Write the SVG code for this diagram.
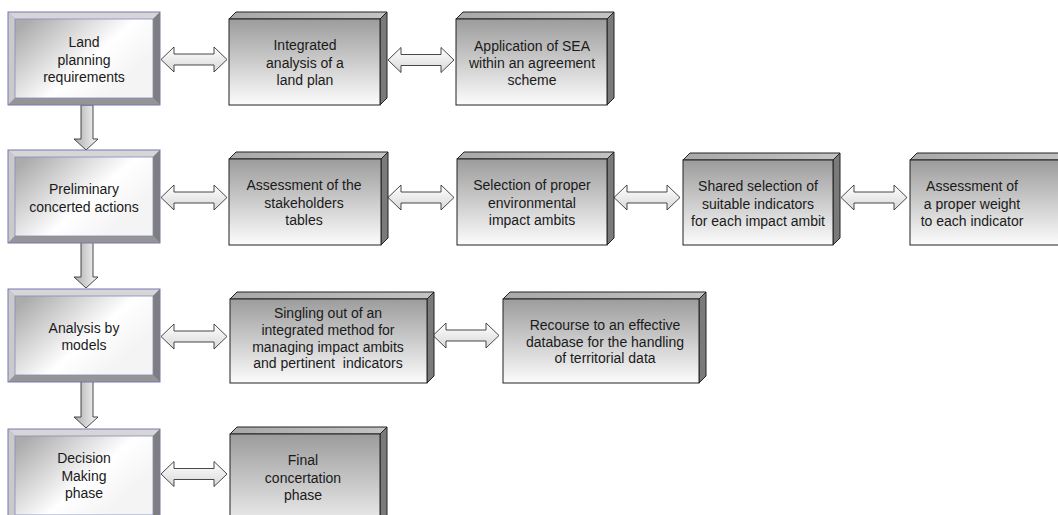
<svg xmlns="http://www.w3.org/2000/svg" width="1058" height="515" viewBox="0 0 1058 515">
<defs>
<linearGradient id="gFace" x1="0" y1="0.15" x2="0.85" y2="0.7">
<stop offset="0" stop-color="#ababab"/>
<stop offset="0.65" stop-color="#ffffff"/>
<stop offset="1" stop-color="#f4f4f4"/>
</linearGradient>
<linearGradient id="gFront" x1="0" y1="0" x2="0" y2="1">
<stop offset="0" stop-color="#9c9c9c"/>
<stop offset="1" stop-color="#fcfcfc"/>
</linearGradient>
<linearGradient id="gTop" x1="0" y1="0" x2="1" y2="0">
<stop offset="0" stop-color="#a8a8a8"/>
<stop offset="1" stop-color="#c4c4c4"/>
</linearGradient>
<linearGradient id="gHArrow" x1="0" y1="0" x2="0" y2="1">
<stop offset="0" stop-color="#ffffff"/>
<stop offset="1" stop-color="#d8d8d8"/>
</linearGradient>
<linearGradient id="gVArrow" x1="0" y1="0" x2="1" y2="0">
<stop offset="0" stop-color="#acacac"/>
<stop offset="1" stop-color="#f8f8f8"/>
</linearGradient>
<g id="bevel">
<rect x="0" y="0" width="152" height="93" fill="#a0a0a0"/>
<path d="M0,0 L152,0 L145,7 L7,7 Z" fill="#d6d6d6"/>
<path d="M0,0 L7,7 L7,86 L0,93 Z" fill="#cacaca"/>
<path d="M152,0 L152,93 L145,86 L145,7 Z" fill="#7e7e7e"/>
<path d="M0,93 L152,93 L145,86 L7,86 Z" fill="#959595"/>
<rect x="7" y="7" width="138" height="79" fill="url(#gFace)" stroke="#8888c0" stroke-width="0.8"/>
<rect x="0" y="0" width="152" height="93" fill="none" stroke="#7878b4" stroke-width="1"/>
</g>
<path id="harrow" d="M0,0 L13,-12.5 L13,-5.5 L53,-5.5 L53,-12.5 L66,0 L53,12.5 L53,5.5 L13,5.5 L13,12.5 Z"/>
</defs>
<style>
text{font-family:"Liberation Sans",Arial,sans-serif;font-size:14px;fill:#1a1a1a;text-anchor:middle}
.front{fill:url(#gFront);stroke:#222;stroke-width:1}
.top{fill:url(#gTop);stroke:#222;stroke-width:1}
.side{fill:#7a7a7a;stroke:#222;stroke-width:1}
.ha{fill:url(#gHArrow);stroke:#333;stroke-width:0.9}
.va{fill:url(#gVArrow);stroke:#333;stroke-width:0.9}
</style>
<rect width="1058" height="515" fill="#ffffff"/>

<g id="connectors">
<use href="#harrow" class="ha" x="161" y="59.5"/>
<use href="#harrow" class="ha" x="388" y="60"/>
<use href="#harrow" class="ha" x="161" y="197.5"/>
<use href="#harrow" class="ha" x="388" y="197.5"/>
<use href="#harrow" class="ha" x="614" y="197.5"/>
<use href="#harrow" class="ha" x="841" y="197.5"/>
<use href="#harrow" class="ha" x="161" y="336.5"/>
<use href="#harrow" class="ha" x="433" y="335.5"/>
<use href="#harrow" class="ha" x="161" y="474"/>
<path class="va" d="M81,105 L93,105 L93,139 L98,139 L86,150 L74,139 L81,139 Z"/>
<path class="va" d="M81,242 L93,242 L93,277 L98,277 L86,288 L74,277 L81,277 Z"/>
<path class="va" d="M81,381 L93,381 L93,417 L98,417 L86,428 L74,417 L81,417 Z"/>
</g>

<g id="n-land">
<use href="#bevel" x="8" y="12"/>
<text x="84" y="47">Land</text>
<text x="84" y="65">planning</text>
<text x="84" y="82">requirements</text>
</g>
<g id="n-prelim">
<use href="#bevel" x="8" y="150"/>
<text x="84" y="194">Preliminary</text>
<text x="84" y="212">concerted actions</text>
</g>
<g id="n-analysis">
<use href="#bevel" x="8" y="289"/>
<text x="84" y="333">Analysis by</text>
<text x="84" y="350">models</text>
</g>
<g id="n-decision">
<use href="#bevel" x="8" y="429"/>
<text x="84" y="463">Decision</text>
<text x="84" y="481">Making</text>
<text x="84" y="498">phase</text>
</g>

<g id="n-integrated" transform="translate(229,19)">
<path class="top" d="M0,0 L7,-7 L158,-7 L151,0 Z"/>
<path class="side" d="M151,0 L158,-7 L158,79 L151,86 Z"/>
<rect class="front" x="0" y="0" width="151" height="86"/>
<text x="76" y="31">Integrated</text>
<text x="76" y="49">analysis of a</text>
<text x="76" y="66">land plan</text>
</g>
<g id="n-application" transform="translate(456,19)">
<path class="top" d="M0,0 L7,-7 L158,-7 L151,0 Z"/>
<path class="side" d="M151,0 L158,-7 L158,79 L151,86 Z"/>
<rect class="front" x="0" y="0" width="151" height="86"/>
<text x="76" y="32">Application of SEA</text>
<text x="76" y="49">within an agreement</text>
<text x="76" y="66">scheme</text>
</g>

<g id="n-stakeholders" transform="translate(229,159)">
<path class="top" d="M0,0 L7,-7 L159,-7 L152,0 Z"/>
<path class="side" d="M152,0 L159,-7 L159,79 L152,86 Z"/>
<rect class="front" x="0" y="0" width="152" height="86"/>
<text x="75" y="31">Assessment of the</text>
<text x="75" y="49">stakeholders</text>
<text x="75" y="66">tables</text>
</g>
<g id="n-selection" transform="translate(457,159)">
<path class="top" d="M0,0 L7,-7 L157,-7 L150,0 Z"/>
<path class="side" d="M150,0 L157,-7 L157,79 L150,86 Z"/>
<rect class="front" x="0" y="0" width="150" height="86"/>
<text x="75" y="31">Selection of proper</text>
<text x="75" y="49">environmental</text>
<text x="75" y="66">impact ambits</text>
</g>
<g id="n-shared" transform="translate(683,160)">
<path class="top" d="M0,0 L7,-7 L157,-7 L150,0 Z"/>
<path class="side" d="M150,0 L157,-7 L157,78 L150,85 Z"/>
<rect class="front" x="0" y="0" width="150" height="85"/>
<text x="75" y="31">Shared selection of</text>
<text x="75" y="49">suitable indicators</text>
<text x="75" y="66">for each impact ambit</text>
</g>
<g id="n-weight" transform="translate(910,160)">
<path class="top" d="M0,0 L7,-7 L167,-7 L160,0 Z"/>
<rect class="front" x="0" y="0" width="160" height="85"/>
<text x="62" y="31">Assessment of</text>
<text x="62" y="49">a proper weight</text>
<text x="62" y="66">to each indicator</text>
</g>

<g id="n-singling" transform="translate(230,299)">
<path class="top" d="M0,0 L7,-7 L204,-7 L197,0 Z"/>
<path class="side" d="M197,0 L204,-7 L204,77 L197,84 Z"/>
<rect class="front" x="0" y="0" width="197" height="84"/>
<text x="98" y="19">Singling out of an</text>
<text x="98" y="36">integrated method for</text>
<text x="98" y="53">managing impact ambits</text>
<text x="98" y="69" xml:space="preserve">and pertinent  indicators</text>
</g>
<g id="n-recourse" transform="translate(503,299)">
<path class="top" d="M0,0 L7,-7 L203,-7 L196,0 Z"/>
<path class="side" d="M196,0 L203,-7 L203,77 L196,84 Z"/>
<rect class="front" x="0" y="0" width="196" height="84"/>
<text x="102" y="31">Recourse to an effective</text>
<text x="102" y="48">database for the handling</text>
<text x="102" y="64">of territorial data</text>
</g>

<g id="n-final" transform="translate(230,434)">
<path class="top" d="M0,0 L7,-7 L157,-7 L150,0 Z"/>
<path class="side" d="M150,0 L157,-7 L157,100 L150,107 Z"/>
<rect class="front" x="0" y="0" width="150" height="107"/>
<text x="73" y="31">Final</text>
<text x="73" y="49">concertation</text>
<text x="73" y="66">phase</text>
</g>
</svg>
